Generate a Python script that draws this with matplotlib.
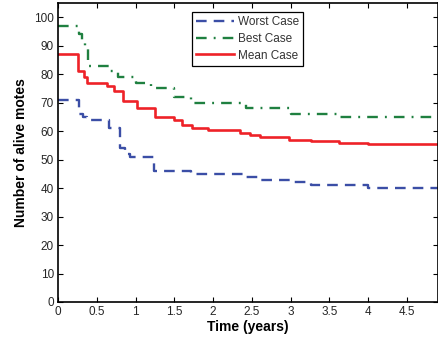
import matplotlib
matplotlib.use("Agg")
import matplotlib.pyplot as plt

# step data (time in years, alive motes)
worst_t = [0, 0.27, 0.32, 0.37, 0.66, 0.80, 0.86, 0.93, 1.24, 1.71, 2.42, 2.61, 3.04, 3.26, 4.0, 4.9]
worst_v = [71, 66, 65, 64, 61, 54, 52, 51, 46, 45, 44, 43, 42, 41, 40, 40]

best_t = [0, 0.27, 0.31, 0.35, 0.39, 0.66, 0.78, 1.0, 1.2, 1.5, 1.71, 2.42, 3.0, 3.63, 4.9]
best_v = [97, 94, 92, 90, 83, 81, 79, 77, 75, 72, 70, 68, 66, 65, 65]

mean_t = [0, 0.26, 0.34, 0.38, 0.63, 0.72, 0.84, 1.02, 1.25, 1.49, 1.6, 1.73, 1.94, 2.35, 2.48, 2.61, 2.98, 3.26, 3.62, 4.0, 4.9]
mean_v = [87, 81, 79, 77, 76, 74, 70.5, 68, 65, 64, 62, 61, 60.4, 59.2, 58.6, 58, 57, 56.4, 56, 55.5, 55.5]

xticks = [0, 0.5, 1, 1.5, 2, 2.5, 3, 3.5, 4, 4.5]
xticklabels = ["0", "0.5", "1", "1.5", "2", "2.5", "3", "3.5", "4", "4.5"]
yticks = list(range(0, 101, 10))

plt.rcParams['font.family'] = ['Liberation Sans', 'DejaVu Sans']

fig = plt.figure(figsize=(4.38, 3.45), dpi=100)
ax = fig.add_axes([58 / 438, 1 - 302 / 345, 1 - 58 / 438, 299 / 345])

ax.plot(worst_t, worst_v, drawstyle="steps-post", color="#3b4ea6", lw=1.7,
        ls=(0, (4.5, 3)), label="Worst Case")
ax.plot(best_t, best_v, drawstyle="steps-post", color="#1f8040", lw=1.7,
        ls=(0, (4.5, 3, 0.8, 3)), label="Best Case")
ax.plot(mean_t, mean_v, drawstyle="steps-post", color="#ee2228", lw=1.9,
        label="Mean Case")

ax.set_xlim(0, 4.9)
ax.set_ylim(0, 105)
ax.set_xticks(xticks)
ax.set_xticklabels(xticklabels)
ax.set_yticks(yticks)
ax.tick_params(direction="in", length=3.5, width=0.8, top=True, right=True,
               labelsize=8.5, labelcolor="#262626", pad=3)
for s in ax.spines.values():
    s.set_linewidth(1.2)

ax.set_xlabel("Time (years)", fontsize=10, fontweight="bold", labelpad=1)
ax.set_ylabel("Number of alive motes", fontsize=10, fontweight="bold", labelpad=4)

leg = ax.legend(loc="upper left", bbox_to_anchor=(0.353, 0.97), borderaxespad=0,
                fontsize=8.5, handlelength=3.2, handletextpad=0.3, borderpad=0.35,
                labelspacing=0.4, fancybox=False, framealpha=1)
leg.get_frame().set_edgecolor("black")
leg.get_frame().set_linewidth(0.9)
for t in leg.get_texts():
    t.set_color("#333333")

fig.savefig("out.png", dpi=100)
